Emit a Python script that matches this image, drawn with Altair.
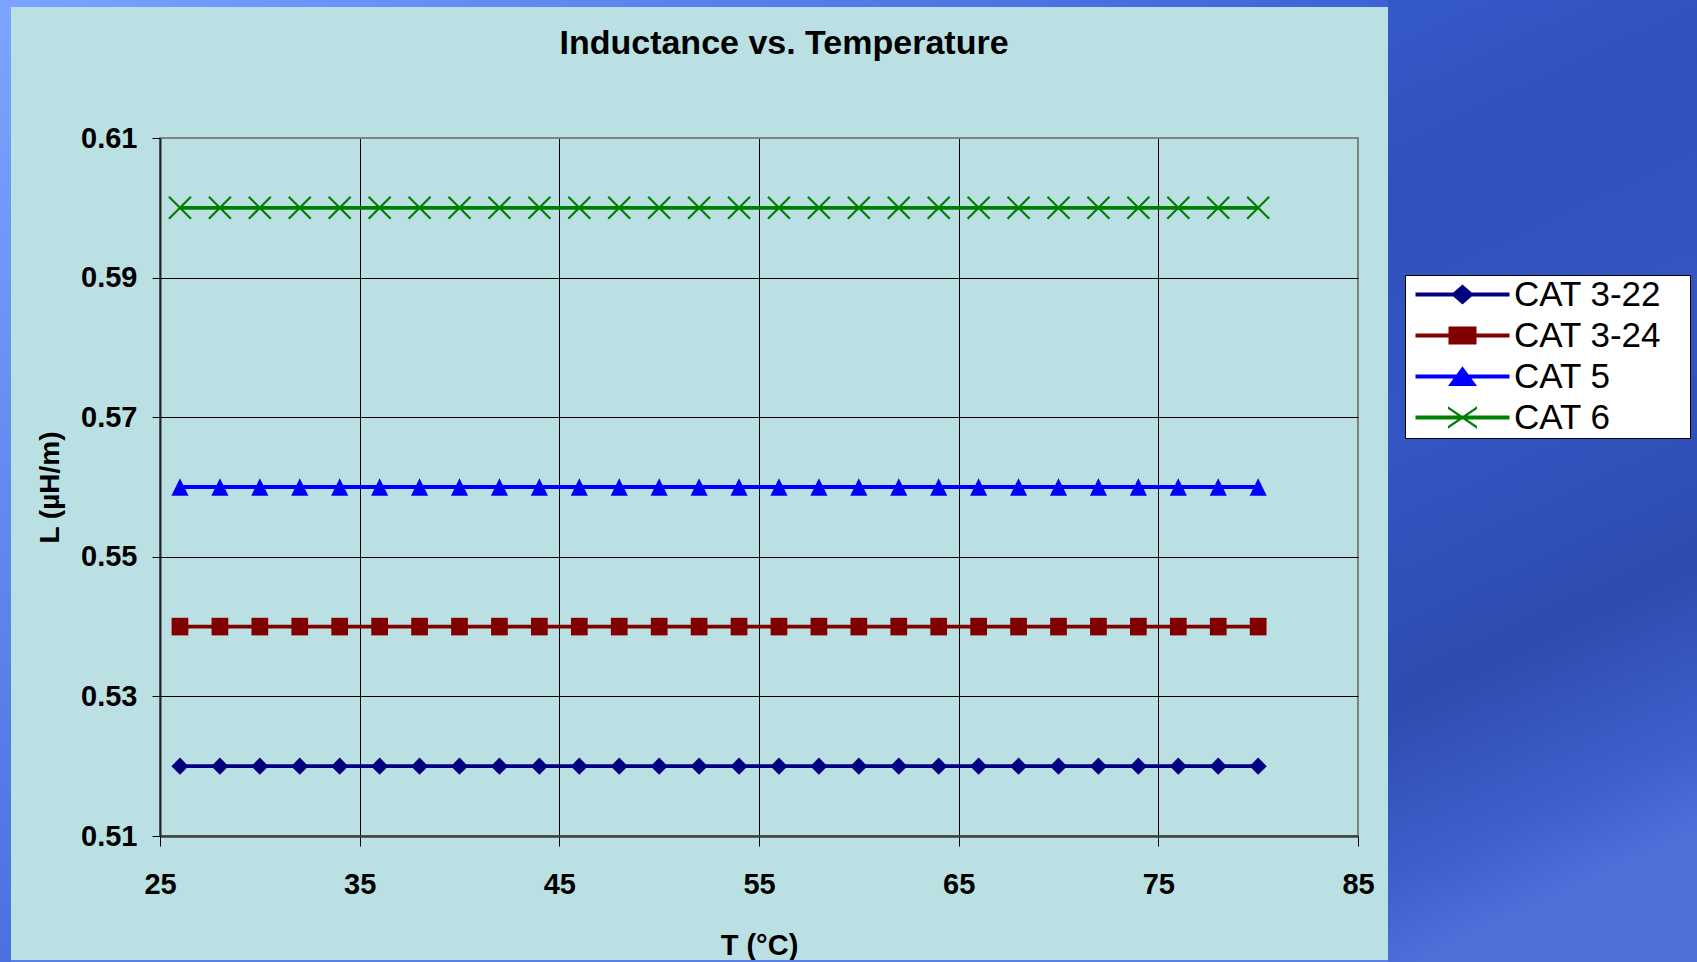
import altair as alt
import pandas as pd

# ---- data ----
temps = [26, 28, 30, 32, 34, 36, 38, 40, 42, 44, 46, 48, 50, 52,
         54, 56, 58, 60, 62, 64, 66, 68, 70, 72, 74, 76, 78, 80]
cat_3_22 = [0.52, 0.52, 0.52, 0.52, 0.52, 0.52, 0.52, 0.52, 0.52, 0.52, 0.52, 0.52, 0.52, 0.52,
            0.52, 0.52, 0.52, 0.52, 0.52, 0.52, 0.52, 0.52, 0.52, 0.52, 0.52, 0.52, 0.52, 0.52]
cat_3_24 = [0.54, 0.54, 0.54, 0.54, 0.54, 0.54, 0.54, 0.54, 0.54, 0.54, 0.54, 0.54, 0.54, 0.54,
            0.54, 0.54, 0.54, 0.54, 0.54, 0.54, 0.54, 0.54, 0.54, 0.54, 0.54, 0.54, 0.54, 0.54]
cat_5 = [0.56, 0.56, 0.56, 0.56, 0.56, 0.56, 0.56, 0.56, 0.56, 0.56, 0.56, 0.56, 0.56, 0.56,
         0.56, 0.56, 0.56, 0.56, 0.56, 0.56, 0.56, 0.56, 0.56, 0.56, 0.56, 0.56, 0.56, 0.56]
cat_6 = [0.60, 0.60, 0.60, 0.60, 0.60, 0.60, 0.60, 0.60, 0.60, 0.60, 0.60, 0.60, 0.60, 0.60,
         0.60, 0.60, 0.60, 0.60, 0.60, 0.60, 0.60, 0.60, 0.60, 0.60, 0.60, 0.60, 0.60, 0.60]

series_names = ["CAT 3-22", "CAT 3-24", "CAT 5", "CAT 6"]
series_colors = ["#000080", "#800000", "#0000FF", "#008000"]
x_ticks = [25, 35, 45, 55, 65, 75, 85]
y_ticks = [0.51, 0.53, 0.55, 0.57, 0.59, 0.61]

rows = []
for name, vals in zip(series_names, [cat_3_22, cat_3_24, cat_5, cat_6]):
    for t, v in zip(temps, vals):
        rows.append({"T": t, "L": v, "series": name})
df = pd.DataFrame(rows)

# ---- marker shapes in the plot (unit path, drawn at size 484 -> radius 11 px) ----
marker_paths = [
    "M0,-0.78L0.78,0L0,0.78L-0.78,0Z",
    "M-0.76,-0.8L0.76,-0.8L0.76,0.8L-0.76,0.8Z",
    "M0,-0.8L0.78,0.8L-0.78,0.8Z",
    "M-1,-1L1,1M-1,1L1,-1",
]

# ---- legend symbols: line + marker, described in pixels around the symbol centre ----
LEG_R = 15.0          # symbol radius from legend symbolSize 900
MK = 32.0             # marker centre, px right of the symbol centre
def _poly(pts, dx=0.0):
    s = "M" + "L".join(f"{(x + dx) / LEG_R:.3f},{y / LEG_R:.3f}" for x, y in pts) + "Z"
    return s
seg = _poly([(-15, -2.1), (79, -2.1), (79, 2.1), (-15, 2.1)])
legend_paths = [
    seg + _poly([(0, -10), (11.5, 0), (0, 10), (-11.5, 0)], MK),
    seg + _poly([(-14, -9), (14, -9), (14, 9), (-14, 9)], MK),
    seg + _poly([(0, -10.3), (14.5, 9.4), (-14.5, 9.4)], MK),
    seg + _poly([(-14.5, -11.2), (14.5, 8.4), (14.5, 11.2), (-14.5, -8.4)], MK)
        + _poly([(-14.5, 11.2), (-14.5, 8.4), (14.5, -11.2), (14.5, -8.4)], MK),
]

FONT = "Liberation Sans"
W, H = 1198, 698
PAD = {"left": 160, "top": 138, "right": 339, "bottom": 126}

x_enc = alt.X(
    "T:Q",
    scale=alt.Scale(domain=[25, 85], nice=False, zero=False),
    axis=alt.Axis(
        values=x_ticks, format="d", title="T (°C)",
        labelFont=FONT, labelFontSize=29, labelFontWeight="bold", labelColor="#000000",
        labelPadding=24, labelFlush=False, labelOverlap=False,
        tickSize=10, tickColor="#000000", tickWidth=1,
        domainColor="#404040", domainWidth=2.5,
        gridColor={"condition": {"test": "datum.value >= 85", "value": "#808080"}, "value": "#000000"},
        gridWidth=1, gridOpacity=1,
        titleFont=FONT, titleFontSize=29, titleFontWeight="bold", titleColor="#000000",
        titlePadding=32,
    ),
)
y_enc = alt.Y(
    "L:Q",
    scale=alt.Scale(domain=[0.51, 0.61], nice=False, zero=False),
    axis=alt.Axis(
        values=y_ticks, format=".2f", title="L (µH/m)",
        labelFont=FONT, labelFontSize=29, labelFontWeight="bold", labelColor="#000000",
        labelPadding=15, labelFlush=False, labelOverlap=False,
        tickSize=8, tickColor="#000000", tickWidth=1,
        domainColor="#222222", domainWidth=2,
        gridColor={"condition": {"test": "datum.value >= 0.609", "value": "#808080"}, "value": "#000000"},
        gridWidth=1, gridOpacity=1,
        titleFont=FONT, titleFontSize=28, titleFontWeight="bold", titleColor="#000000",
        titlePadding=16,
    ),
)

color_scale = alt.Scale(domain=series_names, range=series_colors)

base = alt.Chart(df)

lines = base.mark_line(strokeWidth=3.8).encode(
    x=x_enc, y=y_enc,
    color=alt.Color("series:N", scale=color_scale, legend=None),
    detail="series:N",
)

filled_pts = base.transform_filter("datum.series != 'CAT 6'").mark_point(
    filled=True, size=484, opacity=1, strokeWidth=0
).encode(
    x="T:Q", y="L:Q",
    color=alt.Color("series:N", scale=color_scale, legend=None),
    shape=alt.Shape("series:N", scale=alt.Scale(domain=series_names, range=marker_paths), legend=None),
)

x_pts = base.transform_filter("datum.series == 'CAT 6'").mark_point(
    filled=False, size=484, opacity=1, strokeWidth=2.2
).encode(
    x="T:Q", y="L:Q",
    color=alt.Color("series:N", scale=color_scale, legend=None),
    shape=alt.Shape("series:N", scale=alt.Scale(domain=series_names, range=marker_paths), legend=None),
)

legend_def = alt.Legend(
    title=None, orient="none", legendX=1245, legendY=137, direction="vertical",
    fillColor="#FFFFFF", strokeColor="#000000", padding=2,
    symbolSize=LEG_R * LEG_R * 4, symbolStrokeWidth=0, symbolOffset=6, labelOffset=66,
    labelFont=FONT, labelFontSize=35, labelColor="#000000", labelLimit=500,
    labelExpr="datum.label + '\u2800'",
    rowPadding=5, zindex=1,
)
legend_layer = base.transform_filter("false").mark_point(
    filled=True, opacity=1, strokeWidth=0
).encode(
    x="T:Q", y="L:Q",
    color=alt.Color("series:N", scale=color_scale, legend=legend_def),
    shape=alt.Shape("series:N", scale=alt.Scale(domain=series_names, range=legend_paths), legend=legend_def),
)

# ---- slide background regions outside the chart panel ----
one = pd.DataFrame({"k": [0]})
left_strip = alt.Chart(one).mark_rect(
    color=alt.LinearGradient(gradient="linear", x1=0, y1=0, x2=0, y2=1,
                             stops=[alt.GradientStop(color="#7DA4FF", offset=0),
                                    alt.GradientStop(color="#4C70E0", offset=1)])
).encode(x=alt.value(-160), x2=alt.value(-149), y=alt.value(-138), y2=alt.value(824))
top_strip = alt.Chart(one).mark_rect(
    color=alt.LinearGradient(gradient="linear", x1=0, y1=0, x2=1, y2=0,
                             stops=[alt.GradientStop(color="#7BA3FF", offset=0),
                                    alt.GradientStop(color="#5A80EE", offset=0.5),
                                    alt.GradientStop(color="#3E62D5", offset=1)])
).encode(x=alt.value(-149), x2=alt.value(1228), y=alt.value(-138), y2=alt.value(-131))
right_area = alt.Chart(one).mark_rect(
    color=alt.LinearGradient(gradient="linear", x1=0, y1=0, x2=0.15, y2=1,
                             stops=[alt.GradientStop(color="#3659C9", offset=0),
                                    alt.GradientStop(color="#2F51BB", offset=0.2),
                                    alt.GradientStop(color="#3456C3", offset=0.45),
                                    alt.GradientStop(color="#2C4CB0", offset=0.72),
                                    alt.GradientStop(color="#3F60CC", offset=0.9),
                                    alt.GradientStop(color="#5070DA", offset=1)])
).encode(x=alt.value(1228), x2=alt.value(1537), y=alt.value(-138), y2=alt.value(824))
bottom_strip = alt.Chart(one).mark_rect(color="#5B7FE8").encode(
    x=alt.value(-149), x2=alt.value(1228), y=alt.value(822), y2=alt.value(824))

chart = alt.layer(
    lines, filled_pts, x_pts, legend_layer,
    left_strip, top_strip, right_area, bottom_strip,
).resolve_scale(
    color="independent", shape="independent"
).properties(
    width=W, height=H,
    padding=PAD,
    autosize=alt.AutoSizeParams(type="none"),
    title=alt.TitleParams(
        "Inductance vs. Temperature", font=FONT, fontSize=34, fontWeight="bold",
        color="#000000", anchor="middle", frame="group", dx=25, offset=-88,
        baseline="alphabetic",
    ),
).configure(
    background="#BBE0E3", font=FONT,
).configure_view(
    stroke="#808080", strokeWidth=2,
)

chart.save("out.html", embed_options={"renderer": "svg", "actions": False})
